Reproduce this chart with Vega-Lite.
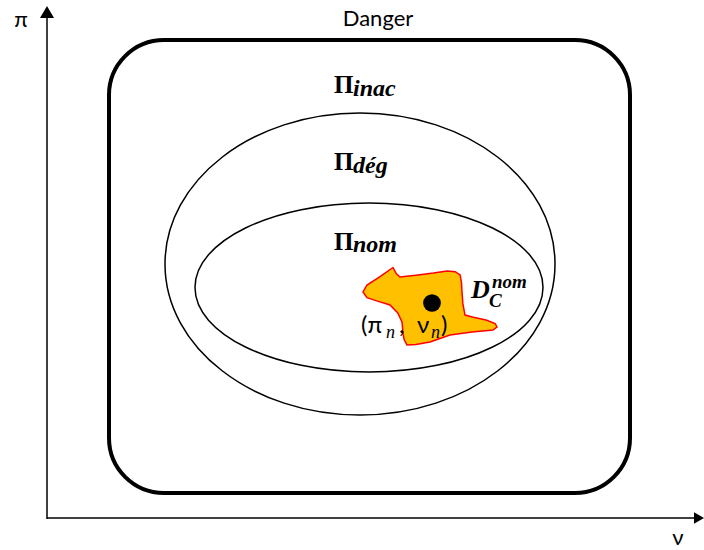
{
  "$schema": "https://vega.github.io/schema/vega-lite/v6.json",
  "width": 704,
  "height": 550,
  "padding": 0,
  "autosize": {"type": "fit", "contains": "padding"},
  "background": "white",
  "config": {"view": {"stroke": null}},
  "datasets": {
    "axes": [
      {"x": 47, "y": 519, "x2": 47, "y2": 16},
      {"x": 47, "y": 518, "x2": 696, "y2": 518}
    ],
    "arrowUp": [{"x": 47, "y": 12}],
    "arrowRight": [{"x": 699, "y": 518}],
    "frame": [{"x": 109, "y": 40, "x2": 630, "y2": 493}],
    "outer": [{"x": 360, "y": 264}],
    "inner": [{"x": 369, "y": 287.5}],
    "blob": [{"x": 430, "y": 306}],
    "dot": [{"x": 432, "y": 303}],
    "plainLabels": [
      {"x": 21, "y": 27, "text": "π"},
      {"x": 678, "y": 545, "text": "ν"},
      {"x": 378, "y": 26, "text": "Danger"}
    ],
    "piLabels": [
      {"x": 334, "y": 93, "text": "Π"},
      {"x": 334, "y": 170, "text": "Π"},
      {"x": 334, "y": 250, "text": "Π"}
    ],
    "piSubs": [
      {"x": 353, "y": 96, "text": "inac"},
      {"x": 353, "y": 173, "text": "dég"},
      {"x": 353, "y": 252, "text": "nom"}
    ],
    "dLabel": [{"x": 471, "y": 298, "text": "D"}],
    "dSmall": [
      {"x": 489, "y": 307, "text": "C"},
      {"x": 492, "y": 288, "text": "nom"}
    ],
    "pointLabel": [
      {"x": 361, "y": 333, "text": "(π"},
      {"x": 399, "y": 333, "text": ","},
      {"x": 417, "y": 333, "text": "ν"},
      {"x": 441, "y": 333, "text": ")"}
    ],
    "pointSubs": [
      {"x": 386, "y": 338, "text": "n"},
      {"x": 431, "y": 338, "text": "n"}
    ]
  },
  "encoding": {
    "x": {"field": "x", "type": "quantitative", "scale": {"domain": [0, 704], "nice": false, "zero": false}, "axis": null},
    "y": {"field": "y", "type": "quantitative", "scale": {"domain": [0, 550], "nice": false, "zero": false, "reverse": true}, "axis": null}
  },
  "layer": [
    {
      "data": {"name": "axes"},
      "mark": {"type": "rule", "color": "black", "strokeWidth": 1.5},
      "encoding": {"x2": {"field": "x2"}, "y2": {"field": "y2"}}
    },
    {
      "data": {"name": "arrowUp"},
      "mark": {"type": "point", "shape": "M0,-1L1.17,1L-1.17,1Z", "size": 144, "filled": true, "color": "black", "opacity": 1}
    },
    {
      "data": {"name": "arrowRight"},
      "mark": {"type": "point", "shape": "M1,0L-1,1.17L-1,-1.17Z", "size": 100, "filled": true, "color": "black", "opacity": 1}
    },
    {
      "data": {"name": "frame"},
      "mark": {"type": "rect", "fill": "white", "fillOpacity": 0, "stroke": "black", "strokeWidth": 4, "cornerRadius": 55},
      "encoding": {"x2": {"field": "x2"}, "y2": {"field": "y2"}}
    },
    {
      "data": {"name": "outer"},
      "mark": {"type": "point", "shape": "M1,0C1,0.4277 0.5523,0.7744 0,0.7744C-0.5523,0.7744 -1,0.4277 -1,0C-1,-0.4277 -0.5523,-0.7744 0,-0.7744C0.5523,-0.7744 1,-0.4277 1,0Z", "size": 152100, "filled": false, "stroke": "black", "strokeWidth": 1.5, "opacity": 1}
    },
    {
      "data": {"name": "inner"},
      "mark": {"type": "point", "shape": "M1,0C1,0.2682 0.5523,0.4856 0,0.4856C-0.5523,0.4856 -1,0.2682 -1,0C-1,-0.2682 -0.5523,-0.4856 0,-0.4856C0.5523,-0.4856 1,-0.2682 1,0Z", "size": 121104, "filled": false, "stroke": "black", "strokeWidth": 1.5, "opacity": 1}
    },
    {
      "data": {"name": "blob"},
      "mark": {"type": "point", "shape": "M-0.529,-0.55L-0.48,-0.46L-0.429,-0.414L-0.2,-0.44L0.05,-0.47L0.243,-0.5L0.36,-0.49L0.43,-0.443L0.45,-0.33L0.457,-0.2L0.47,-0.03L0.5,0.129L0.62,0.16L0.8,0.2L0.93,0.25L0.957,0.3L0.9,0.343L0.6,0.37L0.286,0.414L0,0.514L-0.2,0.55L-0.329,0.557L-0.37,0.48L-0.386,0.386L-0.4,0.229L-0.46,0.1L-0.571,-0.014L-0.75,-0.07L-0.9,-0.12L-0.957,-0.2L-0.9,-0.3L-0.714,-0.42Z", "size": 19600, "filled": true, "fill": "#FFC000", "stroke": "#FF0000", "strokeWidth": 1.5, "opacity": 1}
    },
    {
      "data": {"name": "dot"},
      "mark": {"type": "point", "shape": "circle", "size": 314, "filled": true, "color": "black", "opacity": 1}
    },
    {
      "data": {"name": "plainLabels"},
      "mark": {"type": "text", "font": "Lato", "fontSize": 22, "align": "center", "baseline": "alphabetic", "color": "black"},
      "encoding": {"text": {"field": "text"}}
    },
    {
      "data": {"name": "piLabels"},
      "mark": {"type": "text", "font": "Liberation Serif", "fontWeight": "bold", "fontSize": 25, "align": "left", "baseline": "alphabetic", "color": "black"},
      "encoding": {"text": {"field": "text"}}
    },
    {
      "data": {"name": "piSubs"},
      "mark": {"type": "text", "font": "Liberation Serif", "fontWeight": "bold", "fontStyle": "italic", "fontSize": 24, "align": "left", "baseline": "alphabetic", "color": "black"},
      "encoding": {"text": {"field": "text"}}
    },
    {
      "data": {"name": "dLabel"},
      "mark": {"type": "text", "font": "Liberation Serif", "fontWeight": "bold", "fontStyle": "italic", "fontSize": 26, "align": "left", "baseline": "alphabetic", "color": "black"},
      "encoding": {"text": {"field": "text"}}
    },
    {
      "data": {"name": "dSmall"},
      "mark": {"type": "text", "font": "Liberation Serif", "fontWeight": "bold", "fontStyle": "italic", "fontSize": 19, "align": "left", "baseline": "alphabetic", "color": "black"},
      "encoding": {"text": {"field": "text"}}
    },
    {
      "data": {"name": "pointLabel"},
      "mark": {"type": "text", "font": "Lato", "fontSize": 24, "align": "left", "baseline": "alphabetic", "color": "black"},
      "encoding": {"text": {"field": "text"}}
    },
    {
      "data": {"name": "pointSubs"},
      "mark": {"type": "text", "font": "Liberation Serif", "fontStyle": "italic", "fontSize": 18, "align": "left", "baseline": "alphabetic", "color": "black"},
      "encoding": {"text": {"field": "text"}}
    }
  ]
}
